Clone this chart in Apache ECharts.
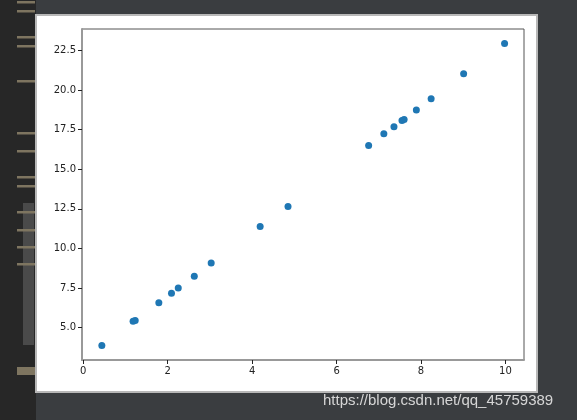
<!DOCTYPE html>
<html>
<head>
<meta charset="utf-8">
<script src="https://cdn.jsdelivr.net/npm/echarts@6/dist/echarts.min.js"></script>
<style>html,body{margin:0;padding:0;background:#3a3d40;}#c{width:577px;height:420px;}</style>
</head>
<body>
<div id="c"></div>
<script>
const xValues = [0.44, 1.18, 1.23, 1.79, 2.09, 2.25, 2.63, 3.03, 4.19, 4.85, 6.76, 7.12, 7.36, 7.55, 7.60, 7.89, 8.24, 9.01, 9.98];
const yValues = [3.86, 5.40, 5.44, 6.56, 7.17, 7.50, 8.24, 9.08, 11.39, 12.65, 16.50, 17.24, 17.68, 18.08, 18.14, 18.75, 19.45, 21.03, 22.94];
const xTicks = [0, 2, 4, 6, 8, 10];
const yTicks = [5, 7.5, 10, 12.5, 15, 17.5, 20, 22.5];
const watermark = 'https://blog.csdn.net/qq_45759389';

const points = xValues.map((x, i) => [x, yValues[i]]);
const tanMarks = [1, 10, 36, 45, 80, 132, 150, 176, 185, 211, 229, 246, 263];

const graphics = [
  {type: 'rect', z: -30, shape: {x: 0, y: 0, width: 36, height: 420}, style: {fill: '#272727'}},
  {type: 'rect', z: -29, shape: {x: 23, y: 203, width: 11, height: 142}, style: {fill: '#4a4a4a'}},
  {type: 'rect', z: -28, shape: {x: 17, y: 367, width: 18, height: 8}, style: {fill: '#7e7560'}},
  {type: 'rect', z: -20, shape: {x: 36, y: 15, width: 501, height: 377}, style: {fill: '#ffffff', stroke: '#b8b8b8', lineWidth: 2}}
];
tanMarks.forEach(y => graphics.push({type: 'rect', z: -28, shape: {x: 17, y: y, width: 18, height: 2.5}, style: {fill: '#7e7560'}}));
graphics.push({type: 'text', z: 10, style: {x: 323, y: 401, text: watermark, fill: '#d6d6d6', font: '15px "Liberation Sans", Arial, sans-serif', textVerticalAlign: 'middle'}});

const chart = echarts.init(document.getElementById('c'), null, {renderer: 'canvas'});
chart.setOption({
  backgroundColor: '#3a3d40',
  animation: false,
  graphic: graphics,
  grid: {left: 82, right: 53, top: 29, bottom: 60, show: true, borderColor: '#555', borderWidth: 1, backgroundColor: 'transparent'},
  xAxis: {
    type: 'value', min: -0.03, max: 10.44,
    axisLine: {show: true, onZero: false, lineStyle: {color: '#999', width: 2}},
    axisTick: {show: true, length: 4, customValues: xTicks, lineStyle: {color: '#222'}},
    axisLabel: {customValues: xTicks, color: '#222', fontSize: 10, fontFamily: 'DejaVu Sans', margin: 6},
    splitLine: {show: false}
  },
  yAxis: {
    type: 'value', min: 2.95, max: 23.86,
    axisLine: {show: true, onZero: false, lineStyle: {color: '#999', width: 2}},
    axisTick: {show: true, length: 4, customValues: yTicks, lineStyle: {color: '#222'}},
    axisLabel: {customValues: yTicks, color: '#222', fontSize: 10, fontFamily: 'DejaVu Sans', margin: 6,
      formatter: v => v.toFixed(1)},
    splitLine: {show: false}
  },
  series: [{
    type: 'scatter', data: points, symbolSize: 7,
    itemStyle: {color: '#1f77b4', opacity: 1}
  }]
});
</script>
</body>
</html>
